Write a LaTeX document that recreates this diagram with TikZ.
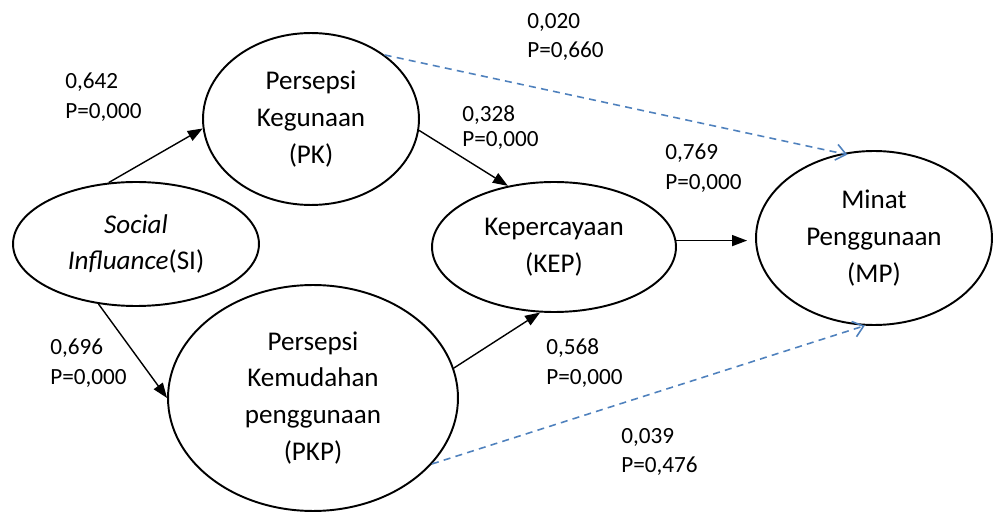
\documentclass[tikz,border=0pt]{standalone}
\usepackage{fontspec}
\setmainfont{Carlito}
\usetikzlibrary{shapes.geometric,arrows.meta}

\definecolor{dashblue}{RGB}{79,129,189}

\begin{document}
\begin{tikzpicture}[x=0.02cm,y=-0.02cm]
\tikzstyle{var}=[ellipse,draw,line width=1.1pt,inner sep=0pt,align=center,font=\fontsize{15.4}{21}\selectfont];
\tikzstyle{coef}=[anchor=west,align=left,inner sep=0pt,font=\fontsize{13.2}{17}\selectfont];
\tikzstyle{sig}=[line width=0.8pt,-{Triangle[length=0.3cm,width=0.22cm]}];
\tikzstyle{nonsig}=[line width=0.9pt,dashblue,dash pattern=on 4pt off 3pt,-{Straight Barb[length=0.2cm,width=0.32cm]}];

\useasboundingbox (0,0) rectangle (995,513);

\node [var,minimum width=4.92cm,minimum height=2.48cm] (si) at (136,244) {\textit{Social}\\\textit{Influance}(SI)};
\node [var,minimum width=4.32cm,minimum height=3.44cm] (pk) at (311,119) {Persepsi\\Kegunaan\\(PK)};
\node [var,minimum width=5.8cm,minimum height=4.52cm] (pkp) at (313,398) {Persepsi\\Kemudahan\\penggunaan\\(PKP)};
\node [var,minimum width=4.88cm,minimum height=2.6cm] (kep) at (554,247) {Kepercayaan\\(KEP)};
\node [var,minimum width=4.72cm,minimum height=3.48cm] (mp) at (874,238) {Minat\\Penggunaan\\(MP)};

\node [coef] (c642) at (65,97.5) {0,642\\P=0,000};
\node [coef] (c696) at (50,363) {0,696\\P=0,000};
\node [coef] (c020) at (527,37) {0,020\\P=0,660};
\node [coef] (c328) at (462,127.5) {0,328\\[-0.1cm]P=0,000};
\node [coef] (c769) at (665,168) {0,769\\P=0,000};
\node [coef] (c568) at (546,363) {0,568\\P=0,000};
\node [coef] (c039) at (621,452) {0,039\\P=0,476};

\draw [sig] (si.114) -- (pk.185);
\draw [sig] (si.238) -- (pkp.west);
\draw [sig] (pk.354) -- (kep.127);
\draw [sig] (pkp.12) -- (kep.258);
\draw [sig,shorten >=0.16cm] (kep.3) -- (kep.3 -| mp.west);

\draw [nonsig,shorten >=-0.12cm] (pk.41) -- (mp.111);
\draw [nonsig] (pkp.331) -- (mp.264);
\end{tikzpicture}
\end{document}
